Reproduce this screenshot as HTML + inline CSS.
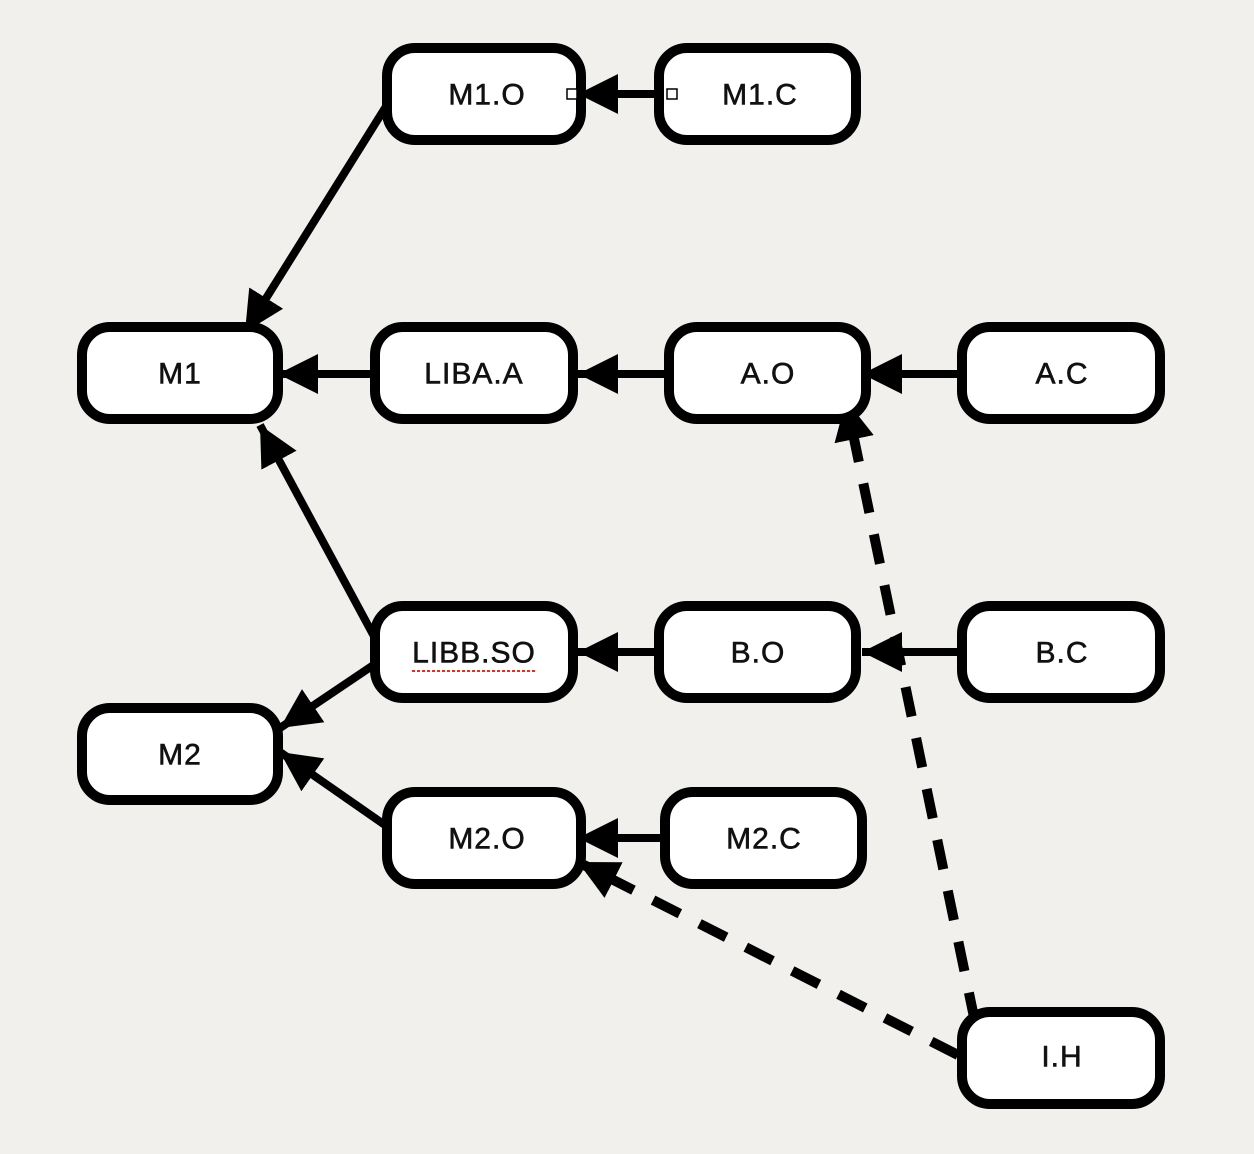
<!DOCTYPE html>
<html><head><meta charset="utf-8"><style>
html,body{margin:0;padding:0;background:#f1f0ec;}
svg{display:block}
text{font-family:"Liberation Sans",sans-serif;font-size:30px;fill:#111;text-anchor:middle;dominant-baseline:central;letter-spacing:1px}
</style></head><body>
<svg width="1254" height="1154" viewBox="0 0 1254 1154" xmlns="http://www.w3.org/2000/svg">
<defs>
<marker id="a" markerUnits="userSpaceOnUse" markerWidth="44" markerHeight="44" refX="40" refY="20" orient="auto">
<path d="M0,0 L40,20 L0,40 Z" fill="#000"/>
</marker>
</defs>
<rect width="1254" height="1154" fill="#f1f0ec"/>
<g stroke="#000" stroke-width="8" fill="none" marker-end="url(#a)">
<line x1="664" y1="94" x2="578" y2="94"/>
<line x1="390" y1="100" x2="245" y2="332"/>
<line x1="372" y1="374" x2="278" y2="374"/>
<line x1="665" y1="374" x2="578" y2="374"/>
<line x1="958" y1="374" x2="862" y2="374"/>
<line x1="376" y1="640" x2="260" y2="425"/>
<line x1="378" y1="662" x2="280" y2="728"/>
<line x1="395" y1="832" x2="280" y2="752"/>
<line x1="670" y1="652" x2="578" y2="652"/>
<line x1="958" y1="652" x2="862" y2="652"/>
<line x1="668" y1="838" x2="578" y2="838"/>
</g>
<g stroke="#000" stroke-width="10" fill="none" stroke-dasharray="30 22" marker-end="url(#a)">
<line x1="975" y1="1022" x2="846" y2="400"/>
<line x1="958" y1="1055" x2="578" y2="862"/>
</g>
<g stroke="#000" stroke-width="10" fill="#fff">
<rect x="387" y="48" width="194" height="92" rx="28"/>
<rect x="659" y="48" width="197" height="92" rx="28"/>
<rect x="82" y="327" width="196" height="92" rx="28"/>
<rect x="375" y="327" width="198" height="92" rx="28"/>
<rect x="669" y="327" width="197" height="92" rx="28"/>
<rect x="962" y="327" width="198" height="92" rx="28"/>
<rect x="375" y="606" width="198" height="92" rx="28"/>
<rect x="659" y="606" width="197" height="92" rx="28"/>
<rect x="962" y="606" width="198" height="92" rx="28"/>
<rect x="82" y="708" width="196" height="92" rx="28"/>
<rect x="387" y="792" width="194" height="92" rx="28"/>
<rect x="665" y="792" width="197" height="92" rx="28"/>
<rect x="962" y="1012" width="198" height="92" rx="28"/>
</g>
<g fill="#fff" stroke="#000" stroke-width="1.5">
<rect x="567" y="89" width="10" height="10"/>
<rect x="667" y="89" width="10" height="10"/>
</g>
<g style="stroke:#111;stroke-width:0.6">
<text x="487" y="95">M1.O</text>
<text x="760" y="95">M1.C</text>
<text x="180" y="374">M1</text>
<text x="474" y="374">LIBA.A</text>
<text x="768" y="374">A.O</text>
<text x="1062" y="374">A.C</text>
<text x="474" y="653">LIBB.SO</text>
<text x="758" y="653">B.O</text>
<text x="1062" y="653">B.C</text>
<text x="180" y="755">M2</text>
<text x="487" y="839">M2.O</text>
<text x="764" y="839">M2.C</text>
<text x="1062" y="1057">I.H</text>
</g>
<line x1="412" y1="671" x2="536" y2="671" stroke="#e03020" stroke-width="2" stroke-dasharray="3 2"/>
</svg>
</body></html>
